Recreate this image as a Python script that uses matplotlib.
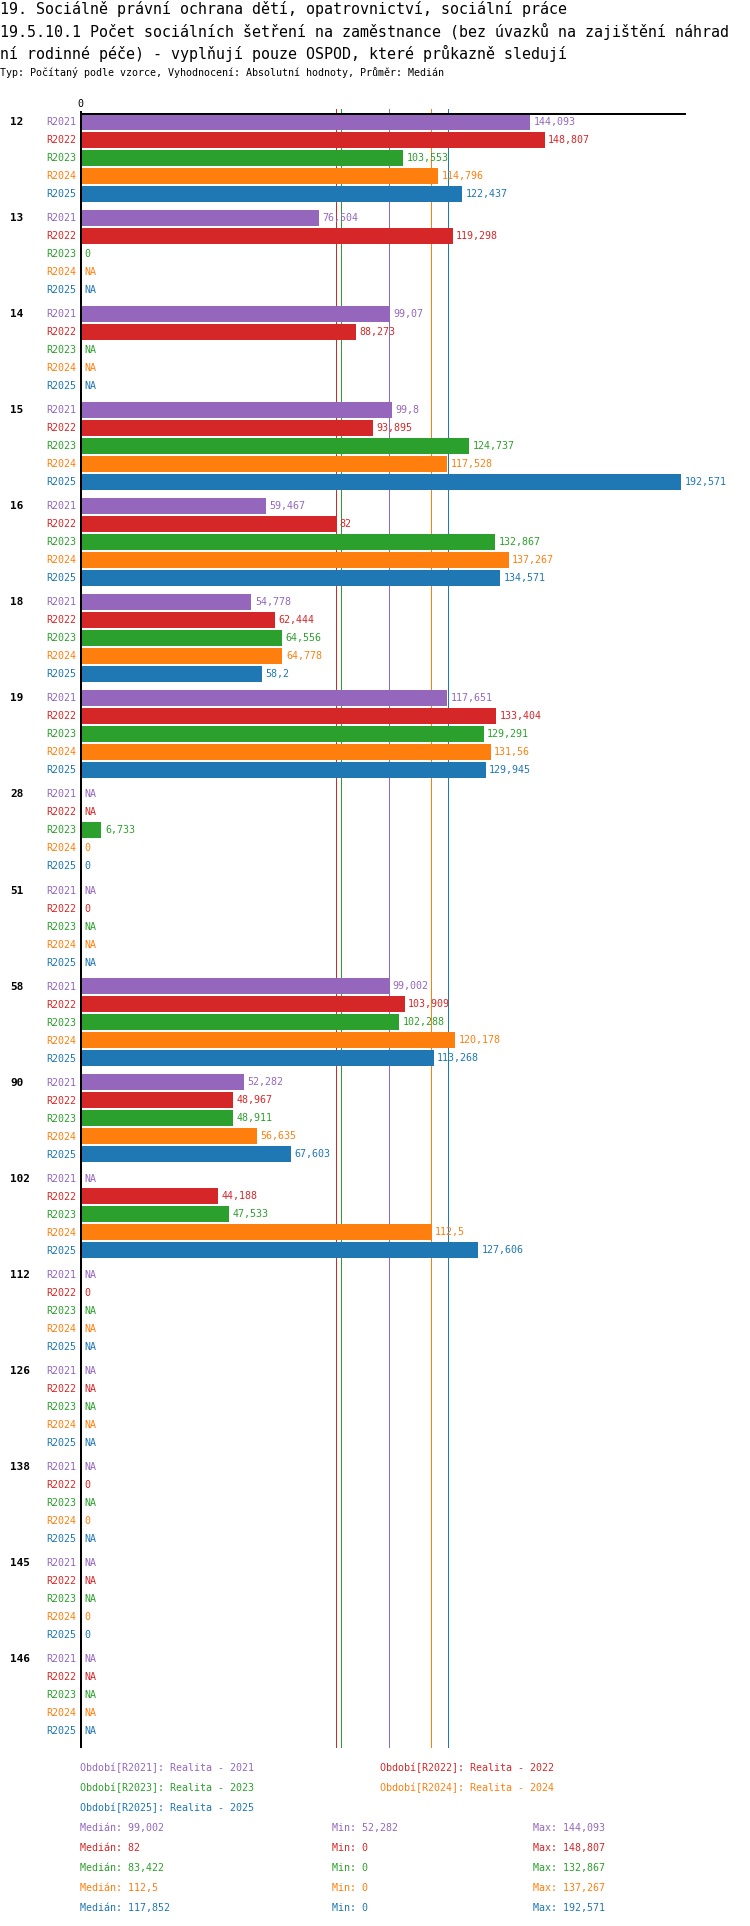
import numpy as np
import matplotlib
matplotlib.use("Agg")
import matplotlib.pyplot as plt
from matplotlib.transforms import blended_transform_factory

# ---------------- data ----------------
groups = ["12", "13", "14", "15", "16", "18", "19", "28", "51", "58",
          "90", "102", "112", "126", "138", "145", "146"]
series = ["R2021", "R2022", "R2023", "R2024", "R2025"]
series_titles = ["Realita - 2021", "Realita - 2022", "Realita - 2023",
                 "Realita - 2024", "Realita - 2025"]
colors = ["#9467bd", "#d62728", "#2ca02c", "#ff7f0e", "#1f77b4"]
NA = None
r2021 = [144.093, 76.504, 99.07, 99.8, 59.467, 54.778, 117.651, NA, NA, 99.002,
         52.282, NA, NA, NA, NA, NA, NA]
r2022 = [148.807, 119.298, 88.273, 93.895, 82, 62.444, 133.404, NA, 0, 103.909,
         48.967, 44.188, 0, NA, 0, NA, NA]
r2023 = [103.553, 0, NA, 124.737, 132.867, 64.556, 129.291, 6.733, NA, 102.288,
         48.911, 47.533, NA, NA, NA, NA, NA]
r2024 = [114.796, NA, NA, 117.528, 137.267, 64.778, 131.56, 0, NA, 120.178,
         56.635, 112.5, NA, NA, 0, 0, NA]
r2025 = [122.437, NA, NA, 192.571, 134.571, 58.2, 129.945, 0, NA, 113.268,
         67.603, 127.606, NA, NA, NA, 0, NA]
values = [r2021, r2022, r2023, r2024, r2025]

title_lines = ["19. Sociálně právní ochrana dětí, opatrovnictví, sociální práce",
               "19.5.10.1 Počet sociálních šetření na zaměstnance (bez úvazků na zajištění náhrad",
               "ní rodinné péče) - vyplňují pouze OSPOD, které průkazně sledují"]
subtitle = "Typ: Počítaný podle vzorce, Vyhodnocení: Absolutní hodnoty, Průměr: Medián"

# ---------------- layout ----------------
W, H, DPI = 750, 1926, 100
FONT = "DejaVu Sans Mono"
PX = 72.0 / DPI          # points per pixel
ROW = 18                 # row step (px)
GROUP = 96               # group step (px)
BAR_H = 16
AX_LEFT, AX_RIGHT = 80.5, 685.0
AX_TOP, AX_BOTTOM = 114.0, 1746.7
TOP_PAD = 8.5            # first row centre below axis top


def fmt(v):
    s = f"{v:.3f}".rstrip("0").rstrip(".")
    return s.replace(".", ",")


fig = plt.figure(figsize=(W / DPI, H / DPI), dpi=DPI)
fig.patch.set_facecolor("white")
ax = fig.add_axes([AX_LEFT / W, 1 - AX_BOTTOM / H,
                   (AX_RIGHT - AX_LEFT) / W, (AX_BOTTOM - AX_TOP) / H])

scale = (681.0 - AX_LEFT) / 192.571
xmax = (AX_RIGHT - AX_LEFT) / scale
ax.set_xlim(0, xmax)
span = AX_BOTTOM - AX_TOP
ax.set_ylim(span - TOP_PAD, -TOP_PAD)

for side in ["right", "bottom"]:
    ax.spines[side].set_visible(False)
for side in ["left", "top"]:
    ax.spines[side].set_linewidth(2 * PX)
    ax.spines[side].set_color("black")
ax.xaxis.tick_top()
ax.set_xticks([0])
ax.set_xticklabels(["0"])
ax.tick_params(axis="x", length=2, width=2 * PX, pad=1.5, labelsize=10 * PX,
               colors="black")
for lab in ax.get_xticklabels():
    lab.set_fontfamily(FONT)
ax.set_yticks([])

# median lines
meds, mins, maxs = [], [], []
for si, vals in enumerate(values):
    arr = np.array([v for v in vals if v is not None], dtype=float)
    med = float(np.median(arr))
    meds.append(med); mins.append(arr.min()); maxs.append(arr.max())
    ax.axvline(med, ymin=0, ymax=1 + 5 / span, color=colors[si],
               lw=1 * PX, zorder=0.5, clip_on=False)

group_tr = blended_transform_factory(fig.transFigure, ax.transData)
for gi, g in enumerate(groups):
    y0 = gi * GROUP
    ax.text(10 / W, y0, g, transform=group_tr, ha="left", va="center",
            fontsize=11 * PX, fontweight="bold", family=FONT, color="black")
    for si in range(len(series)):
        y = y0 + si * ROW
        v = values[si][gi]
        c = colors[si]
        ax.annotate(series[si], xy=(0, y), xytext=(-4 * PX, 0),
                    textcoords="offset points", ha="right", va="center",
                    fontsize=10 * PX, family=FONT, color=c, annotation_clip=False)
        if v is None:
            lab, xv = "NA", 0
        else:
            ax.barh(y, v, height=BAR_H, color=c, zorder=2)
            lab, xv = fmt(v), v
        ax.annotate(lab, xy=(xv, y), xytext=(3.5 * PX, 0),
                    textcoords="offset points", ha="left", va="center",
                    fontsize=10 * PX, family=FONT, color=c, zorder=3,
                    annotation_clip=False)

# titles
for i, (t, yy) in enumerate(zip(title_lines, [9, 31, 53])):
    fig.text(0.5 / W, 1 - yy / H, t, ha="left", va="center",
             fontsize=15 * PX, family=FONT, color="black")
fig.text(0.5 / W, 1 - 73 / H, subtitle, ha="left", va="center",
         fontsize=10 * PX, family=FONT, color="black")

# legend
leg_pos = [(80, 1768), (380, 1768), (80, 1788), (380, 1788), (80, 1808)]
for si, (lx, ly) in enumerate(leg_pos):
    fig.text(lx / W, 1 - ly / H, f"Období[{series[si]}]: {series_titles[si]}",
             ha="left", va="center", fontsize=10 * PX, family=FONT,
             color=colors[si])

# stats
for si in range(len(series)):
    ly = 1828 + 20 * si
    for lx, txt in [(80, f"Medián: {fmt(meds[si])}"),
                    (332, f"Min: {fmt(mins[si])}"),
                    (533, f"Max: {fmt(maxs[si])}")]:
        fig.text(lx / W, 1 - ly / H, txt, ha="left", va="center",
                 fontsize=10 * PX, family=FONT, color=colors[si])

fig.savefig("out.png", dpi=DPI, facecolor="white")
